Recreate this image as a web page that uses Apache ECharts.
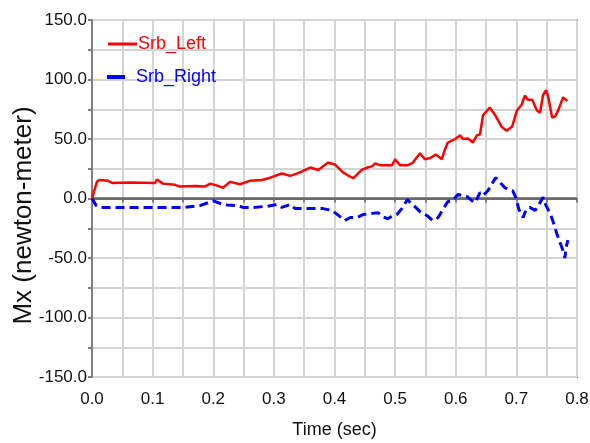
<!DOCTYPE html>
<html>
<head>
<meta charset="utf-8">
<script src="https://cdn.jsdelivr.net/npm/echarts@6/dist/echarts.min.js"></script>
<style>
  html, body { margin: 0; padding: 0; background: #ffffff; }
  #chart { width: 590px; height: 443px; }
</style>
</head>
<body>
<div id="chart"></div>
<script>
// Moment Mx about the x axis for the left and right Srb, over time (sec)
const leftTime = [0, 0.008, 0.012, 0.026, 0.033, 0.063, 0.104, 0.107, 0.117, 0.137, 0.145, 0.170, 0.186, 0.195, 0.205, 0.216, 0.228, 0.244, 0.261, 0.280, 0.294, 0.313, 0.327, 0.343, 0.360, 0.373, 0.389, 0.401, 0.414, 0.422, 0.431, 0.437, 0.445, 0.454, 0.462, 0.467, 0.475, 0.495, 0.500, 0.508, 0.521, 0.529, 0.541, 0.549, 0.558, 0.567, 0.577, 0.582, 0.587, 0.599, 0.607, 0.612, 0.620, 0.628, 0.635, 0.640, 0.645, 0.656, 0.665, 0.676, 0.684, 0.693, 0.701, 0.709, 0.714, 0.719, 0.726, 0.734, 0.739, 0.744, 0.749, 0.752, 0.759, 0.764, 0.769, 0.777, 0.784];
const leftMx = [0, 14, 15.5, 15, 13, 13.5, 13, 16, 12.5, 11.5, 10, 10.5, 10, 12.5, 11, 9, 14, 12, 15, 15.5, 17.5, 21, 19, 22, 26, 24, 30, 28.5, 22, 19.5, 17, 20, 24, 26, 27, 29.5, 28, 28, 33, 28, 28, 30, 38, 33, 34, 37, 33, 41, 47, 50, 53, 50, 50.5, 47, 53, 54, 70, 76.5, 70, 60, 57, 60.5, 74, 79, 86.5, 83, 83, 74, 72, 87, 91, 86.5, 68, 69, 74, 85, 82];

const rightTime = [0, 0.007, 0.013, 0.153, 0.178, 0.200, 0.211, 0.223, 0.241, 0.249, 0.266, 0.289, 0.305, 0.313, 0.327, 0.335, 0.365, 0.381, 0.396, 0.406, 0.417, 0.426, 0.437, 0.447, 0.462, 0.472, 0.480, 0.488, 0.496, 0.503, 0.511, 0.520, 0.529, 0.541, 0.553, 0.562, 0.571, 0.579, 0.587, 0.594, 0.604, 0.610, 0.619, 0.627, 0.632, 0.640, 0.645, 0.653, 0.661, 0.666, 0.673, 0.681, 0.689, 0.694, 0.699, 0.704, 0.711, 0.716, 0.722, 0.731, 0.739, 0.744, 0.749, 0.755, 0.760, 0.767, 0.772, 0.777, 0.780, 0.782, 0.785];
const rightMx = [0, -6, -7.5, -7.5, -6, -2, -4, -5.5, -6, -7.5, -7.5, -6.5, -5, -7.5, -5, -8.5, -8.5, -8.5, -10, -14, -18.5, -16, -16, -13.5, -12.5, -12, -15.5, -17, -14.5, -13.5, -8.5, -1, -5, -11, -14.5, -18.5, -16, -9, -2.5, -2, 3.5, 2.5, 1.5, -2, -3.5, 5, 2.5, 6.5, 13.5, 17.5, 13.5, 9, 7.5, 6.5, 1, -9, -16, -9.5, -7.5, -10, -3.5, 1, -6, -12, -18.5, -30, -37, -44, -50, -41, -35];

const seriesNames = ['Srb_Left', 'Srb_Right'];
const xAxisTitle = 'Time (sec)';
const yAxisTitle = 'Mx (newton-meter)';

const pairs = (xs, ys) => xs.map((x, i) => [x, ys[i]]);

const font = "'Liberation Sans', Arial, sans-serif";

const chart = echarts.init(document.getElementById('chart'), null, { renderer: 'canvas' });

chart.setOption({
  animation: false,
  backgroundColor: '#ffffff',
  grid: {
    left: 92, right: 13, top: 20, bottom: 66,
    outerBoundsMode: 'none',
    containLabel: false,
    show: true, borderColor: '#808080', borderWidth: 2, backgroundColor: '#ffffff'
  },
  legend: [
    {
      data: [seriesNames[0]],
      left: 103, top: 30,
      icon: 'rect', itemWidth: 29, itemHeight: 3,
      textStyle: { color: '#ff0000', fontFamily: font, fontSize: 18, padding: [0, 0, 0, -4] }
    },
    {
      data: [seriesNames[1]],
      left: 102, top: 63,
      icon: 'rect', itemWidth: 18, itemHeight: 4,
      textStyle: { color: '#0000ff', fontFamily: font, fontSize: 18, padding: [0, 0, 0, 6] }
    }
  ],
  xAxis: {
    type: 'value',
    min: 0, max: 0.8, interval: 0.05,
    name: xAxisTitle,
    nameLocation: 'middle',
    nameGap: 44,
    nameMoveOverlap: false,
    nameTextStyle: { color: '#111', fontFamily: font, fontSize: 18 },
    axisLine: { show: true, lineStyle: { color: '#808080', width: 2 } },
    axisTick: { show: true, length: 4, lineStyle: { color: '#808080', width: 2 } },
    axisLabel: {
      color: '#111', fontFamily: font, fontSize: 17, margin: 14,
      formatter: v => (Math.round(v * 100) % 10 === 0 ? v.toFixed(1) : '')
    },
    splitLine: { show: true, lineStyle: { color: '#d4d4d4', width: 2 } }
  },
  yAxis: {
    type: 'value',
    min: -150, max: 150, interval: 25,
    name: yAxisTitle,
    nameLocation: 'middle',
    nameGap: 55,
    nameMoveOverlap: false,
    nameTextStyle: { color: '#111', fontFamily: font, fontSize: 26, padding: [0, 34, 0, 0] },
    axisLine: { show: true, lineStyle: { color: '#808080', width: 2 } },
    axisTick: { show: true, length: 4, lineStyle: { color: '#808080', width: 2 } },
    axisLabel: {
      color: '#111', fontFamily: font, fontSize: 17, margin: 5,
      formatter: v => (v % 50 === 0 ? v.toFixed(1) : '')
    },
    splitLine: { show: true, lineStyle: { color: '#d4d4d4', width: 2 } }
  },
  series: [
    {
      name: seriesNames[0],
      type: 'line',
      data: pairs(leftTime, leftMx),
      symbol: 'none',
      color: '#ff0000',
      lineStyle: { color: '#ff0000', width: 2.5 },
      z: 4,
      markLine: {
        silent: true,
        symbol: 'none',
        label: { show: false },
        lineStyle: { color: '#666666', width: 2.5, type: 'solid' },
        data: [{ yAxis: 0 }],
        z: 2
      }
    },
    {
      name: seriesNames[1],
      type: 'line',
      data: pairs(rightTime, rightMx),
      symbol: 'none',
      color: '#0000ff',
      lineStyle: { color: '#0000ff', width: 3, type: [9, 5] },
      z: 3
    }
  ]
});
</script>
</body>
</html>
